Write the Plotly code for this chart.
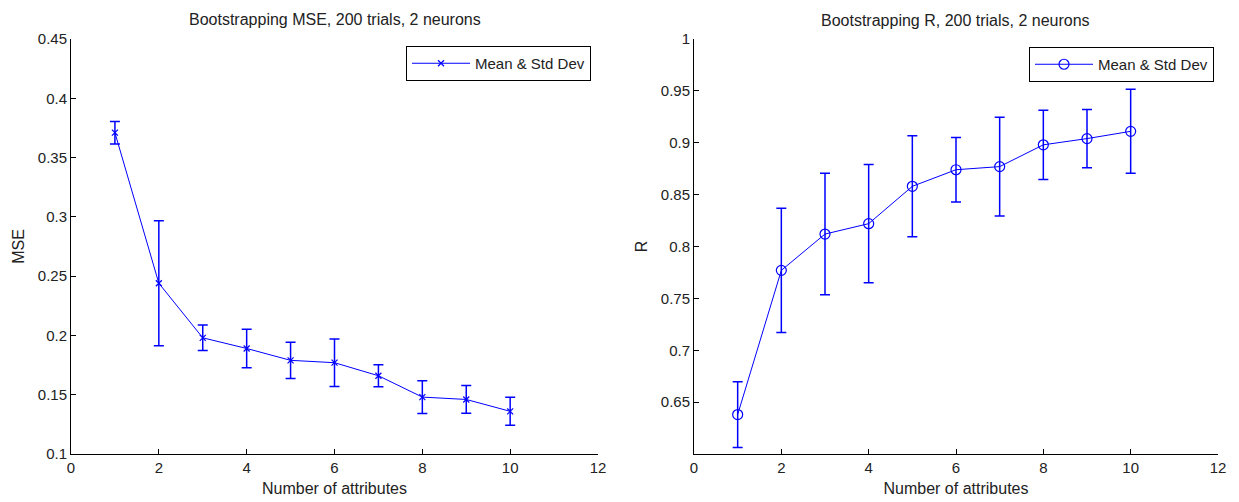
import plotly.graph_objects as go

attributes = [1, 2, 3, 4, 5, 6, 7, 8, 9, 10]
mse_mean = [0.371, 0.244, 0.198, 0.189, 0.179, 0.177, 0.166, 0.148, 0.146, 0.136]
mse_std = [0.0095, 0.0527, 0.0108, 0.0163, 0.0153, 0.0200, 0.0093, 0.0138, 0.0117, 0.0118]
r_mean = [0.638, 0.777, 0.812, 0.822, 0.858, 0.874, 0.877, 0.898, 0.904, 0.911]
r_std = [0.0317, 0.0598, 0.0585, 0.0570, 0.0487, 0.0310, 0.0476, 0.0334, 0.0280, 0.0405]

x_ticks = [0, 2, 4, 6, 8, 10, 12]
mse_ticks = [0.1, 0.15, 0.2, 0.25, 0.3, 0.35, 0.4, 0.45]
r_ticks = [0.65, 0.7, 0.75, 0.8, 0.85, 0.9, 0.95, 1]

BLUE = "rgb(0,0,255)"
FONT = "Liberation Sans, Arial, sans-serif"
TXT = "#222"
W, H = 1239, 502

fig = go.Figure()

fig.add_trace(go.Scatter(
    x=attributes, y=mse_mean, mode="lines+markers", name="Mean & Std Dev",
    line=dict(color=BLUE, width=1),
    marker=dict(symbol="x-thin", size=6, line=dict(color=BLUE, width=1.2), color=BLUE),
    error_y=dict(type="data", array=mse_std, visible=True, color=BLUE, thickness=1.5, width=5),
    xaxis="x", yaxis="y", legend="legend",
))
fig.add_trace(go.Scatter(
    x=attributes, y=r_mean, mode="lines+markers", name="Mean & Std Dev",
    line=dict(color=BLUE, width=1),
    marker=dict(symbol="circle-open", size=10, line=dict(color=BLUE, width=1.2), color=BLUE),
    error_y=dict(type="data", array=r_std, visible=True, color=BLUE, thickness=1.5, width=5),
    xaxis="x2", yaxis="y2", legend="legend2",
))

def px_x(p):
    return p / W

def px_y(p):
    return 1 - p / H

ydom = [px_y(454), px_y(39)]
axis_common = dict(
    showline=True, linecolor="black", linewidth=1, mirror=False,
    ticks="inside", ticklen=5, tickcolor="black", tickwidth=1,
    showgrid=False, zeroline=False, automargin=False,
    tickfont=dict(family=FONT, size=15, color=TXT),
    title_font=dict(family=FONT, size=16, color=TXT),
)

legend_common = dict(
    xanchor="right", yanchor="top",
    bordercolor="black", borderwidth=1, bgcolor="white",
    font=dict(family=FONT, size=15, color=TXT), itemwidth=58,
)

fig.update_layout(
    width=W, height=H,
    margin=dict(l=0, r=0, t=0, b=0),
    paper_bgcolor="white", plot_bgcolor="white",
    font=dict(family=FONT, size=15, color=TXT),
    xaxis=dict(domain=[px_x(71), px_x(598)], range=[0, 12], tickvals=x_ticks,
               title=dict(text="Number of attributes", standoff=7), anchor="y", **axis_common),
    yaxis=dict(domain=ydom, range=[0.1, 0.45], tickvals=mse_ticks,
               ticktext=[f"{v:g}" for v in mse_ticks],
               title=dict(text="MSE", standoff=9), anchor="x", **axis_common),
    xaxis2=dict(domain=[px_x(694), px_x(1218)], range=[0, 12], tickvals=x_ticks,
                title=dict(text="Number of attributes", standoff=7), anchor="y2", **axis_common),
    yaxis2=dict(domain=ydom, range=[0.6, 1.0], tickvals=r_ticks,
                ticktext=[f"{v:g}" for v in r_ticks],
                title=dict(text="R", standoff=9), anchor="x2", **axis_common),
    legend=dict(x=px_x(591), y=px_y(46), **legend_common),
    legend2=dict(x=px_x(1214), y=px_y(47), **legend_common),
    showlegend=True,
    annotations=[
        dict(text="Bootstrapping MSE, 200 trials, 2 neurons", x=px_x(334.5), y=px_y(20),
             xref="paper", yref="paper", showarrow=False, xanchor="center", yanchor="middle",
             font=dict(family=FONT, size=16, color=TXT)),
        dict(text="Bootstrapping R, 200 trials, 2 neurons", x=px_x(956), y=px_y(21),
             xref="paper", yref="paper", showarrow=False, xanchor="center", yanchor="middle",
             font=dict(family=FONT, size=16, color=TXT)),
    ],
)

fig.write_html("out.html", config={"displayModeBar": False},
               post_script="document.body.style.margin='0px';")
